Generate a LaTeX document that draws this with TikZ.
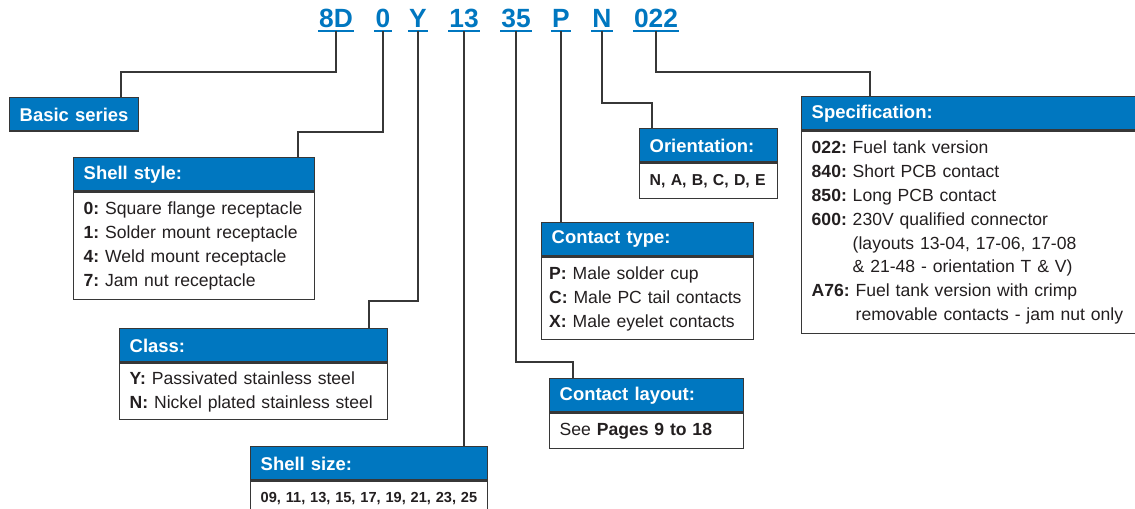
\documentclass[tikz,border=0pt]{standalone}
\usepackage{fontspec}
\setmainfont{Liberation Sans}
\usetikzlibrary{positioning}

\definecolor{brand}{RGB}{0,119,192}
\definecolor{edge}{RGB}{55,55,55}
\definecolor{ink}{RGB}{35,31,32}
\newcommand{\codefont}{\fontsize{15}{18}\selectfont\bfseries}
\newcommand{\hdrfont}{\fontsize{10.5}{12}\selectfont\bfseries}
\newcommand{\bodyfont}{\fontsize{10}{13.6}\selectfont}
\frenchspacing
\hyphenpenalty=10000

\begin{document}
\begin{tikzpicture}[x=0.02cm, y=-0.02cm,
  partcode/.style={font=\codefont, text=brand, anchor=base, inner xsep=0.5pt, inner ysep=1.4pt},
  uline/.style={draw=brand, line width=1pt},
  lead/.style={draw=edge, line width=0.7pt},
  hdr/.style={rectangle, draw=edge, line width=0.8pt, fill=brand, text=white, font=\hdrfont, anchor=north west, inner xsep=0.2cm, minimum height=0.67cm, align=left},
  panel/.style={rectangle, draw=edge, line width=0.8pt, fill=white, text=ink, font=\bodyfont, anchor=north west, inner xsep=0.2cm, align=left},
]
\fill[white] (0,0) rectangle (1135,509);
\useasboundingbox (0,0) rectangle (1135,509);
\clip (0,0) rectangle (1135,509);

% === Part number ===
\node[partcode] (c8D) at (336,28) {8D};
\node[partcode] (c0) at (383,28) {0};
\node[partcode] (cY) at (418,28) {Y};
\node[partcode] (c13) at (464,28) {13};
\node[partcode] (c35) at (516,28) {35};
\node[partcode] (cP) at (561,28) {P};
\node[partcode] (cN) at (602,28) {N};
\node[partcode] (c022) at (656,28) {022};
\foreach \c in {c8D,c0,cY,c13,c35,cP,cN,c022}
  \draw[uline] (\c.south west) -- (\c.south east);

% === Boxes, left side ===
\node[hdr, text width=2.18cm] (serH) at (9,97) {Basic series};

\node[hdr, text width=4.42cm] (styH) at (73,157) {Shell style:};
\node[panel, text width=4.42cm, minimum height=2.14cm] (styB) at (styH.south west)
  {\textbf{0:} Square flange receptacle\\
   \textbf{1:} Solder mount receptacle\\
   \textbf{4:} Weld mount receptacle\\
   \textbf{7:} Jam nut receptacle};

\node[hdr, text width=4.96cm] (clsH) at (119,328) {Class:};
\node[panel, text width=4.96cm, minimum height=1.12cm] (clsB) at (clsH.south west)
  {\textbf{Y:} Passivated stainless steel\\
   \textbf{N:} Nickel plated stainless steel};

\node[hdr, text width=4.34cm] (sizH) at (250,446) {Shell size:};
\node[panel, text width=4.34cm, minimum height=0.66cm, font=\fontsize{8.3}{10}\selectfont\bfseries] (sizB) at (sizH.south west)
  {09, 11, 13, 15, 17, 19, 21, 23, 25};

% === Boxes, middle ===
\node[hdr, text width=3.84cm] (typH) at (541,222) {Contact type:};
\node[panel, text width=3.94cm, inner xsep=0.15cm, minimum height=1.64cm] (typB) at (typH.south west)
  {\textbf{P:} Male solder cup\\
   \textbf{C:} Male PC tail contacts\\
   \textbf{X:} Male eyelet contacts};

\node[hdr, text width=3.48cm] (layH) at (549,378) {Contact layout:};
\node[panel, text width=3.48cm, minimum height=0.70cm] (layB) at (layH.south west)
  {See \textbf{Pages 9 to 18}};

\node[hdr, text width=2.36cm] (oriH) at (639,128) {Orientation:};
\node[panel, text width=2.36cm, minimum height=0.70cm, font=\fontsize{9}{11}\selectfont\bfseries] (oriB) at (oriH.south west)
  {N, A, B, C, D, E};

% === Specification ===
\node[hdr, text width=6.5cm] (spcH) at (801,96) {Specification:};
\node[panel, text width=6.5cm, minimum height=4.04cm] (spcB) at (spcH.south west)
  {\textbf{022:} Fuel tank version\\
   \textbf{840:} Short PCB contact\\
   \textbf{850:} Long PCB contact\\
   \textbf{600:} 230V qualified connector\\
   \phantom{\textbf{600:} }(layouts 13-04, 17-06, 17-08\\
   \phantom{\textbf{600:} }\& 21-48 - orientation T \& V)\\
   \textbf{A76:} Fuel tank version with crimp\\
   \phantom{\textbf{A76:} }removable contacts - jam nut only};

% === Leaders ===
\coordinate (k8D) at (121,72);
\coordinate (k0) at (298,132);
\coordinate (kY) at (369,301);
\coordinate (k35) at (573,362);
\coordinate (kN) at (652,103);
\coordinate (k022) at (870,72);

\draw[lead] (c8D.south) |- (k8D) -- (k8D |- serH.north);
\draw[lead] (c0.south) |- (k0) -- (k0 |- styH.north);
\draw[lead] (cY.south) |- (kY) -- (kY |- clsH.north);
\draw[lead] (c13.south) -- (c13.south |- sizH.north);
\draw[lead] (c35.south) |- (k35) -- (k35 |- layH.north);
\draw[lead] (cP.south) -- (cP.south |- typH.north);
\draw[lead] (cN.south) |- (kN) -- (kN |- oriH.north);
\draw[lead] (c022.south) |- (k022) -- (k022 |- spcH.north);

\end{tikzpicture}
\end{document}
